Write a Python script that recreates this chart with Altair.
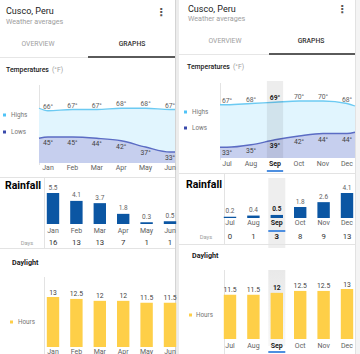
import altair as alt
import pandas as pd

# ---------------- data ----------------
MONTHS = ['Jan', 'Feb', 'Mar', 'Apr', 'May', 'Jun', 'Jul', 'Aug', 'Sep', 'Oct', 'Nov', 'Dec']
HIGHS = [66, 67, 67, 68, 68, 67, 67, 68, 69, 70, 70, 68]
LOWS = [45, 45, 44, 42, 37, 33, 33, 35, 39, 42, 44, 44]
RAIN = [5.5, 4.1, 3.7, 1.8, 0.3, 0.5, 0.2, 0.4, 0.5, 1.8, 2.6, 4.1]
RAIN_DAYS = [16, 13, 13, 7, 1, 1, 0, 1, 3, 8, 9, 13]
DAYLIGHT = [13, 12.5, 12, 12, 11.5, 11.5, 11.5, 11.5, 12, 12.5, 12.5, 13]
PLACE = 'Cusco, Peru'
SUBTITLE = 'Weather averages'
TABS = ['OVERVIEW', 'GRAPHS']
T_TITLE = 'Temperatures'
T_UNIT = '(°F)'
R_TITLE = 'Rainfall'
D_TITLE = 'Daylight'
LEG_TEMP = ['Highs', 'Lows']
LEG_DAY = 'Hours'
DAYS_LABEL = 'Days'
SELECTED = 'Sep'

# ---------------- style ----------------
FONT = 'Roboto'
HI_FILL = '#e1f5fe'
HI_LINE = '#6ccaf2'
LO_FILL = '#c6cfee'
LO_LINE = '#5b6cc4'
HI_KEY = '#4fc3f7'
LO_KEY = '#3949ab'
RAIN_COLOR = '#0b56a3'
DAY_COLOR = '#fecf48'
SEL_BLUE = '#4e8fe0'
GRID = '#e3e3e3'
LABEL = '#616161'
DARK = '#212121'

LEFT = dict(start=0, px0=0, px1=175, name=(6, 11), sub=(6, 22), menu=(161, 13), tab_y=44, ov_x=38, gr_x=132,
            tab_split=88, tab_line_y=57,
            t_title=(6, 70), t_unit_x=51, t_plot=(39, 175, 85, 163), t_first=48, t_step=24.4, t_ydom=(24.2, 86.6),
            t_lab_y=168, t_uline=171, leg_sq_x=4.5, leg_tx=11, leg_hi_y=115, leg_lo_y=132,
            div1=177, r_title=(5, 186), r_axis=(44, 177, 248), r_centers=(53, 23.4), r_base=224, r_top=193,
            r_max=5.5, r_lab_y=231, r_days_y=243, days_x=27, r_band=(178, 248), r_uline=231,
            div2=248, d_title=(12, 263), d_axis=(44, 277, 354), d_base=347, d_top=297, d_lab_y=352,
            d_band=(277, 346), d_uline=352, hours_sq_x=11.5, hours_tx=18, hours_y=322)

RIGHT = dict(start=6, px0=179, px1=355, name=(188, 9), sub=(188, 19), menu=(342, 10), tab_y=41, ov_x=225, gr_x=311,
             tab_split=269, tab_line_y=54,
             t_title=(187, 67), t_unit_x=232, t_plot=(220, 355, 83, 158), t_first=227, t_step=24, t_ydom=(24.4, 84.4),
             t_lab_y=164, t_uline=171, leg_sq_x=185.5, leg_tx=192, leg_hi_y=112, leg_lo_y=128,
             div1=173, r_title=(186, 185), r_axis=(224, 173, 244), r_centers=(230, 23.4), r_base=218, r_top=193,
             r_max=4.1, r_lab_y=223, r_days_y=237, days_x=206, r_band=(178, 248), r_uline=231,
             div2=244, d_title=(192, 256), d_axis=(224, 270, 354), d_base=339, d_top=289, d_lab_y=346,
             d_band=(270, 346), d_uline=352, hours_sq_x=190.5, hours_tx=196, hours_y=315)


def one():
    return pd.DataFrame({'k': [0]})


def txt(s, x, y, size, color=LABEL, weight='normal', align='left', font=FONT):
    return alt.Chart(pd.DataFrame({'t': [s]})).mark_text(
        align=align, baseline='middle', fontSize=size, color=color, fontWeight=weight, font=font
    ).encode(x=alt.value(x), y=alt.value(y), text='t:N')


def rule_h(x1, x2, y, color=GRID, w=1.0):
    return alt.Chart(one()).mark_rule(color=color, strokeWidth=w).encode(
        x=alt.value(x1), x2=alt.value(x2), y=alt.value(y))


def rule_v(x, y1, y2, color=GRID, w=1.0):
    return alt.Chart(one()).mark_rule(color=color, strokeWidth=w).encode(
        x=alt.value(x), y=alt.value(y1), y2=alt.value(y2))


def box(x1, x2, y1, y2, color):
    return alt.Chart(one()).mark_rect(color=color).encode(
        x=alt.value(x1), x2=alt.value(x2), y=alt.value(y1), y2=alt.value(y2))


def labels(chart, x, y, text, size, color=LABEL, dy=0):
    normal = chart.transform_filter('!datum.sel').mark_text(
        font=FONT, fontSize=size, color=color, dy=dy, baseline='middle', align='center'
    ).encode(x=x, y=y, text=text)
    bold = chart.transform_filter('datum.sel').mark_text(
        font=FONT, fontSize=size, color=DARK, fontWeight='bold', dy=dy, baseline='middle', align='center'
    ).encode(x=x, y=y, text=text)
    return [normal, bold]


def header(p):
    out = []
    out.append(txt(PLACE, p['name'][0], p['name'][1], 9, DARK))
    out.append(txt(SUBTITLE, p['sub'][0], p['sub'][1], 7.2, '#9e9e9e'))
    out.append(txt('⋮', p['menu'][0], p['menu'][1], 11, '#555555', 'bold', 'center', 'DejaVu Sans'))
    out.append(txt(TABS[0], p['ov_x'], p['tab_y'], 6.8, '#9e9e9e', 'normal', 'center'))
    out.append(txt(TABS[1], p['gr_x'], p['tab_y'], 6.8, '#333333', 500, 'center'))
    out.append(rule_h(p['px0'], p['tab_split'], p['tab_line_y'] + 0.5, '#e6e6e6', 1))
    out.append(rule_h(p['tab_split'], p['px1'], p['tab_line_y'], '#5a5a5a', 2))
    return out


def temp_section(p):
    s = p['start']
    ks = list(range(-1, 7))
    mi = [(s + k) % 12 for k in ks]
    df = pd.DataFrame({'idx': ks, 'month': [MONTHS[m] for m in mi],
                       'hi': [HIGHS[m] for m in mi], 'lo': [LOWS[m] for m in mi]})
    df['hi_t'] = [f'{v}°' for v in df.hi]
    df['lo_t'] = [f'{v}°' for v in df.lo]
    df['sel'] = (df.month == SELECTED) & (df.idx >= 0) & (df.idx <= 5)
    px0, px1, py0, py1 = p['t_plot']
    d0 = (px0 - p['t_first']) / p['t_step']
    d1 = (px1 - p['t_first']) / p['t_step']
    xsc = alt.Scale(domain=[d0, d1], range=[px0, px1], clamp=True, nice=False, zero=False)
    ysc = alt.Scale(domain=list(p['t_ydom']), range=[py1, py0], nice=False, zero=False)
    X = alt.X('idx:Q', scale=xsc, axis=None)
    base = alt.Chart(df)
    out = []
    out.append(txt(T_TITLE, p['t_title'][0], p['t_title'][1], 6.9, DARK, 500))
    out.append(txt(T_UNIT, p['t_unit_x'] + 1, p['t_title'][1], 6.9, '#9e9e9e'))
    out.append(rule_v(px0 + 0.5, py0, py1 + 2))
    out.append(base.mark_area(color=HI_FILL, interpolate='monotone').encode(
        x=X, y=alt.Y('hi:Q', scale=ysc, axis=None), y2=alt.datum(p['t_ydom'][0])))
    out.append(base.mark_area(color=LO_FILL, interpolate='monotone').encode(
        x=X, y=alt.Y('lo:Q', scale=ysc, axis=None), y2=alt.datum(p['t_ydom'][0])))
    out.append(base.mark_line(color=HI_LINE, strokeWidth=1.3, interpolate='monotone').encode(
        x=X, y=alt.Y('hi:Q', scale=ysc, axis=None)))
    out.append(base.mark_line(color=LO_LINE, strokeWidth=1.3, interpolate='monotone').encode(
        x=X, y=alt.Y('lo:Q', scale=ysc, axis=None)))
    if SELECTED in MONTHS[s:s + 6]:
        hl = base.transform_filter('datum.sel').transform_calculate(a='datum.idx - 0.34', b='datum.idx + 0.34')
        out.append(hl.mark_rect(color='#000000', opacity=0.07).encode(
            x=alt.X('a:Q', scale=xsc, axis=None), x2='b:Q', y=alt.value(py0 - 2), y2=alt.value(py1)))
        out.append(hl.mark_rect(color=SEL_BLUE).encode(
            x=alt.X('a:Q', scale=xsc, axis=None), x2='b:Q', y=alt.value(p['t_uline'] - 1), y2=alt.value(p['t_uline'] + 1)))
    vis = base.transform_filter('datum.idx >= 0 && datum.idx <= 5')
    out += labels(vis, X, alt.Y('hi:Q', scale=ysc, axis=None), 'hi_t:N', 6.8, LABEL, -4)
    out += labels(vis, X, alt.Y('lo:Q', scale=ysc, axis=None), 'lo_t:N', 6.8, '#424242', 6)
    out += labels(vis, X, alt.value(p['t_lab_y']), 'month:N', 7, LABEL)
    # legend
    out.append(box(p['leg_sq_x'] - 1.5, p['leg_sq_x'] + 1.5, p['leg_hi_y'] - 1.5, p['leg_hi_y'] + 1.5, HI_KEY))
    out.append(box(p['leg_sq_x'] - 1.5, p['leg_sq_x'] + 1.5, p['leg_lo_y'] - 1.5, p['leg_lo_y'] + 1.5, LO_KEY))
    out.append(txt(LEG_TEMP[0], p['leg_tx'], p['leg_hi_y'], 6.3, '#757575'))
    out.append(txt(LEG_TEMP[1], p['leg_tx'], p['leg_lo_y'], 6.3, '#757575'))
    return out


def band_scale(p, ms):
    c0, st = p['r_centers']
    r0 = c0 - st / 2
    return alt.Scale(domain=ms, range=[r0, r0 + 6 * st], paddingInner=0.47, paddingOuter=0.235)


def rain_section(p):
    s = p['start']
    ms = MONTHS[s:s + 6]
    df = pd.DataFrame({'month': ms, 'v': RAIN[s:s + 6], 'days': RAIN_DAYS[s:s + 6]})
    df['v_t'] = [f'{v:.1f}' for v in df.v]
    df['d_t'] = [str(d) for d in df.days]
    df['sel'] = df.month == SELECTED
    X = alt.X('month:N', scale=band_scale(p, ms), axis=None, sort=ms)
    ysc = alt.Scale(domain=[0, p['r_max']], range=[p['r_base'], p['r_top']], nice=False)
    base = alt.Chart(df)
    out = []
    out.append(rule_h(p['px0'], p['px1'], p['div1'] + 0.5))
    sel = base.transform_filter('datum.sel')
    out.append(sel.mark_bar(color='#eeeeee', width=17).encode(
        x=X, y=alt.value(p['r_band'][0]), y2=alt.value(p['r_band'][1])))
    out.append(txt(R_TITLE, p['r_title'][0], p['r_title'][1], 10.5, '#000000', 'bold'))
    out.append(rule_v(p['r_axis'][0] + 0.5, p['r_axis'][1], p['r_axis'][2]))
    out.append(base.mark_bar(color=RAIN_COLOR).encode(
        x=X, y=alt.Y('v:Q', scale=ysc, axis=None), y2=alt.datum(0)))
    out += labels(base, X, alt.Y('v:Q', scale=ysc, axis=None), 'v_t:N', 6.5, LABEL, -5.5)
    out += labels(base, X, alt.value(p['r_lab_y']), 'month:N', 7, LABEL)
    out += labels(base, X, alt.value(p['r_days_y']), 'd_t:N', 7.8, '#333333')
    out.append(sel.mark_bar(color=SEL_BLUE, width=17).encode(
        x=X, y=alt.value(p['r_uline'] - 1), y2=alt.value(p['r_uline'] + 1)))
    out.append(txt(DAYS_LABEL, p['days_x'], p['r_days_y'], 5.8, '#9e9e9e', 'normal', 'center'))
    out.append(rule_h(p['px0'], p['px1'], p['div2'] + 0.5))
    return out


def day_section(p):
    s = p['start']
    ms = MONTHS[s:s + 6]
    df = pd.DataFrame({'month': ms, 'v': DAYLIGHT[s:s + 6]})
    df['v_t'] = [f'{v:g}' for v in df.v]
    df['sel'] = df.month == SELECTED
    X = alt.X('month:N', scale=band_scale(p, ms), axis=None, sort=ms)
    ysc = alt.Scale(domain=[0, 13], range=[p['d_base'], p['d_top']], nice=False)
    base = alt.Chart(df)
    sel = base.transform_filter('datum.sel')
    out = []
    grad = alt.Gradient(gradient='linear', x1=0, x2=0, y1=0, y2=1,
                        stops=[alt.GradientStop(offset=0, color='#e9e9e9'),
                               alt.GradientStop(offset=1, color='#f7f7f7')])
    out.append(sel.mark_bar(color=grad, width=17).encode(
        x=X, y=alt.value(p['d_band'][0]), y2=alt.value(p['d_band'][1])))
    out.append(txt(D_TITLE, p['d_title'][0], p['d_title'][1], 7.2, DARK, 'bold'))
    out.append(rule_v(p['d_axis'][0] + 0.5, p['d_axis'][1], p['d_axis'][2]))
    out.append(base.mark_bar(color=DAY_COLOR).encode(
        x=X, y=alt.Y('v:Q', scale=ysc, axis=None), y2=alt.datum(0)))
    out += labels(base, X, alt.Y('v:Q', scale=ysc, axis=None), 'v_t:N', 6.8, '#424242', -4.5)
    out += labels(base, X, alt.value(p['d_lab_y']), 'month:N', 7, LABEL)
    out.append(sel.mark_bar(color=SEL_BLUE, width=17).encode(
        x=X, y=alt.value(p['d_uline'] - 1), y2=alt.value(p['d_uline'] + 1)))
    out.append(box(p['hours_sq_x'] - 1.5, p['hours_sq_x'] + 1.5, p['hours_y'] - 1.5, p['hours_y'] + 1.5, DAY_COLOR))
    out.append(txt(LEG_DAY, p['hours_tx'], p['hours_y'], 6.3, '#757575'))
    return out


layers = []
# page chrome: gap between the two screens, right margin
layers.append(box(175.5, 179, 0, 354, '#ececec'))
layers.append(rule_v(175.5, 0, 354, '#d4d4d4'))
layers.append(box(355.5, 360, 0, 354, '#f4f4f4'))
layers.append(rule_v(355.5, 0, 354, '#e2e2e2'))
for panel in (LEFT, RIGHT):
    layers += header(panel)
    layers += temp_section(panel)
    layers += rain_section(panel)
    layers += day_section(panel)

chart = alt.layer(*layers).resolve_scale(x='independent', y='independent').properties(
    width=360, height=354, padding=0, background='white',
    autosize=alt.AutoSizeParams(type='none')
).configure_view(strokeWidth=0)

chart.save('out.html', embed_options={'renderer': 'svg', 'actions': False})
